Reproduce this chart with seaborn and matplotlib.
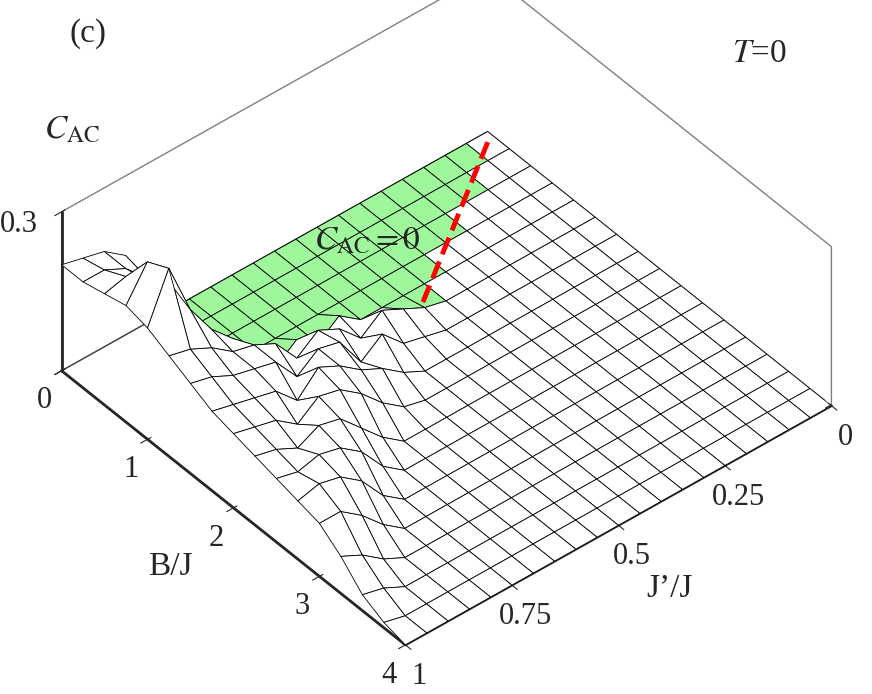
import numpy as np
import matplotlib
matplotlib.use("Agg")
import matplotlib.pyplot as plt
import seaborn as sns
from matplotlib import colors as mcolors

sns.set_style("white")
plt.rcParams['font.family'] = ['Liberation Serif', 'DejaVu Serif']
plt.rcParams['mathtext.fontset'] = 'stix'

# J'/J values (columns) and B/J values (rows)
jp = [0.0, 0.05, 0.1, 0.15, 0.2, 0.25, 0.3, 0.35, 0.4, 0.45, 0.5,
      0.55, 0.6, 0.65, 0.7, 0.75, 0.8, 0.85, 0.9, 0.95, 1.0]
bj = [0.0, 0.25, 0.5, 0.75, 1.0, 1.25, 1.5, 1.75, 2.0, 2.25, 2.5,
      2.75, 3.0, 3.25, 3.5, 3.75, 4.0]
# C_AC values: rows = B/J, columns = J'/J
cac = [
    [0, 0, 0, 0, 0, 0, 0, 0, 0, 0, 0, 0, 0, 0, 0, 0, .08, .15, .18, .19, .20],
    [0, 0, 0, 0, 0, 0, 0, 0, 0, 0, 0, 0, 0, 0, 0, 0, .07, .14, .18, .20, .20],
    [0, 0, 0, 0, 0, 0, 0, 0, 0, 0, 0, 0, 0, 0, 0, 0, .06, .13, .19, .22, .21],
    [0, 0, 0, 0, 0, 0, 0, 0, 0, 0, 0, 0, 0, 0, 0, .03, .06, .14, .22, .28, .22],
    [0, 0, 0, 0, 0, 0, 0, 0, 0, 0, 0, .03, 0, .03, 0, .06, .10, .14, .20, .30, .21],
    [0, 0, 0, 0, 0, 0, 0, 0, .01, .03, .05, .02, .06, .08, .05, .10, .12, .13, .16, .18, .19],
    [0, 0, 0, 0, 0, 0, 0, 0, 0, .01, .02, .06, .03, .09, .10, .07, .12, .13, .14, .16, .17],
    [0, 0, 0, 0, 0, 0, 0, 0, 0, 0, 0, .02, .05, .07, .10, .12, .08, .12, .13, .14, .15],
    [0, 0, 0, 0, 0, 0, 0, 0, 0, 0, 0, 0, .01, .04, .08, .11, .12, .09, .12, .13, .14],
    [0, 0, 0, 0, 0, 0, 0, 0, 0, 0, 0, 0, 0, 0, .03, .07, .11, .12, .10, .12, .13],
    [0, 0, 0, 0, 0, 0, 0, 0, 0, 0, 0, 0, 0, 0, 0, .03, .08, .11, .12, .11, .12],
    [0, 0, 0, 0, 0, 0, 0, 0, 0, 0, 0, 0, 0, 0, 0, 0, .03, .08, .11, .12, .11],
    [0, 0, 0, 0, 0, 0, 0, 0, 0, 0, 0, 0, 0, 0, 0, 0, 0, .03, .07, .10, .10],
    [0, 0, 0, 0, 0, 0, 0, 0, 0, 0, 0, 0, 0, 0, 0, 0, 0, 0, .02, .05, .07],
    [0, 0, 0, 0, 0, 0, 0, 0, 0, 0, 0, 0, 0, 0, 0, 0, 0, 0, 0, .02, .03],
    [0, 0, 0, 0, 0, 0, 0, 0, 0, 0, 0, 0, 0, 0, 0, 0, 0, 0, 0, 0, .01],
    [0, 0, 0, 0, 0, 0, 0, 0, 0, 0, 0, 0, 0, 0, 0, 0, 0, 0, 0, 0, 0],
]
# red dashed boundary of the C_AC = 0 (green) region: (J'/J, B/J) end points
boundary_jp = [0.02, 0.4]
boundary_bj = [0.1, 1.2]
green_bmax = 1.3

X, Y = np.meshgrid(jp, bj)
Z = np.array(cac)

fig = plt.figure(figsize=(8.72, 6.94), dpi=100)
ax = fig.add_axes([0.0, -0.02, 1.0, 1.12], projection='3d')
ax.set_proj_type('ortho')

fc = np.empty(Z[:-1, :-1].shape + (4,))
slope = (boundary_jp[1] - boundary_jp[0]) / (boundary_bj[1] - boundary_bj[0])
for i in range(Z.shape[0] - 1):
    for j in range(Z.shape[1] - 1):
        b_mid = 0.5 * (Y[i, j] + Y[i + 1, j])
        j_mid = 0.5 * (X[i, j] + X[i, j + 1])
        j_line = boundary_jp[0] + slope * (b_mid - boundary_bj[0])
        green = (b_mid < green_bmax and j_mid > j_line and
                 Z[i:i + 2, j:j + 2].max() < 0.035)
        fc[i, j] = mcolors.to_rgba('#9ef79b' if green else 'white')
ax.plot_surface(X, Y, Z, facecolors=fc, edgecolor='black', linewidth=0.6,
                shade=False, rstride=1, cstride=1)

ax.plot(boundary_jp, boundary_bj, [0.002, 0.002], color='red', ls='--',
        lw=3.5, zorder=10)

ax.set_xlim(0, 1)
ax.set_ylim(0, 4)
ax.set_zlim(0, 0.3)
ax.set_xticks([1, 0.75, 0.5, 0.25, 0])
ax.set_xticklabels(['1', '0.75', '0.5', '0.25', '0'], fontsize=22)
ax.set_yticks([0, 1, 2, 3, 4])
ax.set_yticklabels(['0', '1', '2', '3', '4'], fontsize=22)
ax.set_zticks([0, 0.3])
ax.set_zticklabels(['', '0.3'], fontsize=22)
ax.tick_params(axis='z', pad=8)
ax.set_xlabel("J’/J", fontsize=24, labelpad=22)
ax.set_ylabel("B/J", fontsize=24, labelpad=22)
for a in (ax.xaxis, ax.yaxis, ax.zaxis):
    a.pane.fill = False
    a.pane.set_edgecolor('black')
    a.line.set_linewidth(2)
ax.grid(False)
ax.view_init(elev=42, azim=50)
ax.set_box_aspect((1.3, 1.25, 0.5))

fig.text(0.08, 0.94, '(c)', fontsize=24)
fig.text(0.84, 0.91, r'$T$=0', fontsize=24)
fig.text(0.05, 0.80, r'$C_{\rm AC}$', fontsize=24)
fig.text(0.36, 0.64, r'$C_{\rm AC}=0$', fontsize=24)

fig.savefig('out.png', dpi=100)
